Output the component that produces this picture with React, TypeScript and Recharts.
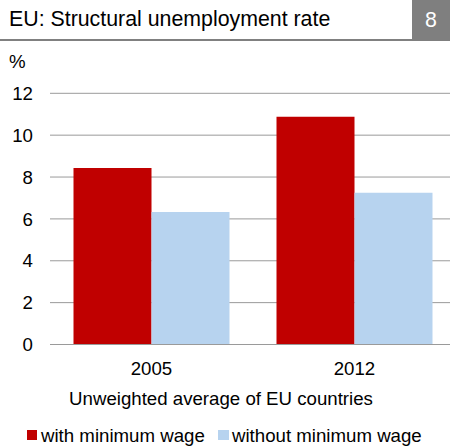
import React from 'react'
import { BarChart, Bar, XAxis, YAxis, CartesianGrid } from 'recharts'

const years = ['2005', '2012']
const withMinWage = [8.43, 10.88]
const withoutMinWage = [6.33, 7.25]
const yTicks = [0, 2, 4, 6, 8, 10, 12]

const data = years.map((year, i) => ({
    year,
    withMin: withMinWage[i],
    withoutMin: withoutMinWage[i],
}))

const FONT = '"Liberation Sans", Arial, sans-serif'
const RED = '#C00000'
const BLUE = '#B7D3EF'
const GRID = '#9a9a9a'

export default function App() {
    return (
        <div style={{ position: 'absolute', left: 0, top: 0, width: 450, height: 448, overflow: 'hidden', background: '#fff', fontFamily: FONT, color: '#000' }}>
            {/* title bar */}
            <div style={{ position: 'absolute', left: 9, top: 7, fontSize: 21.33, lineHeight: '24px', whiteSpace: 'nowrap' }}>
                EU: Structural unemployment rate
            </div>
            <div style={{ position: 'absolute', left: 0, top: 39, width: 412, height: 2, background: '#808080' }} />
            <div style={{ position: 'absolute', left: 412, top: 0, width: 38, height: 41, background: '#7f7f7f', color: '#fff', fontSize: 21.33, lineHeight: '41px', textAlign: 'center' }}>
                8
            </div>
            <div style={{ position: 'absolute', left: 9, top: 51, fontSize: 18.67, lineHeight: '21px' }}>%</div>

            <div style={{ position: 'absolute', left: 0, top: 0 }}>
                <BarChart
                    width={458}
                    height={448}
                    data={data}
                    margin={{ top: 93.3, right: 2, bottom: 73.5, left: 0 }}
                    barCategoryGap={23.5}
                    barGap={0}
                >
                    <CartesianGrid vertical={false} stroke={GRID} strokeWidth={1} />
                    <XAxis
                        dataKey="year"
                        height={30}
                        tickLine={false}
                        tickSize={0}
                        tickMargin={17}
                        axisLine={{ stroke: GRID }}
                        tick={{ fill: '#000', fontSize: 18.67, fontFamily: FONT }}
                    />
                    <YAxis
                        width={50}
                        domain={[0, 12]}
                        ticks={yTicks}
                        interval={0}
                        tickLine={false}
                        tickSize={0}
                        tickMargin={17}
                        axisLine={false}
                        tick={{ fill: '#000', fontSize: 18.67, fontFamily: FONT }}
                    />
                    <Bar dataKey="withMin" fill={RED} isAnimationActive={false} />
                    <Bar dataKey="withoutMin" fill={BLUE} isAnimationActive={false} />
                </BarChart>
            </div>

            <div style={{ position: 'absolute', left: 0, top: 388, width: 442, textAlign: 'center', fontSize: 18.67, lineHeight: '21px', whiteSpace: 'nowrap' }}>
                Unweighted average of EU countries
            </div>

            {/* legend */}
            <div style={{ position: 'absolute', left: 27, top: 430, width: 10, height: 10, background: RED }} />
            <div style={{ position: 'absolute', left: 41, top: 425, fontSize: 18.67, lineHeight: '21px', whiteSpace: 'nowrap' }}>with minimum wage</div>
            <div style={{ position: 'absolute', left: 218, top: 430, width: 11, height: 10, background: BLUE }} />
            <div style={{ position: 'absolute', left: 232, top: 425, fontSize: 18.67, lineHeight: '21px', whiteSpace: 'nowrap' }}>without minimum wage</div>
        </div>
    )
}
